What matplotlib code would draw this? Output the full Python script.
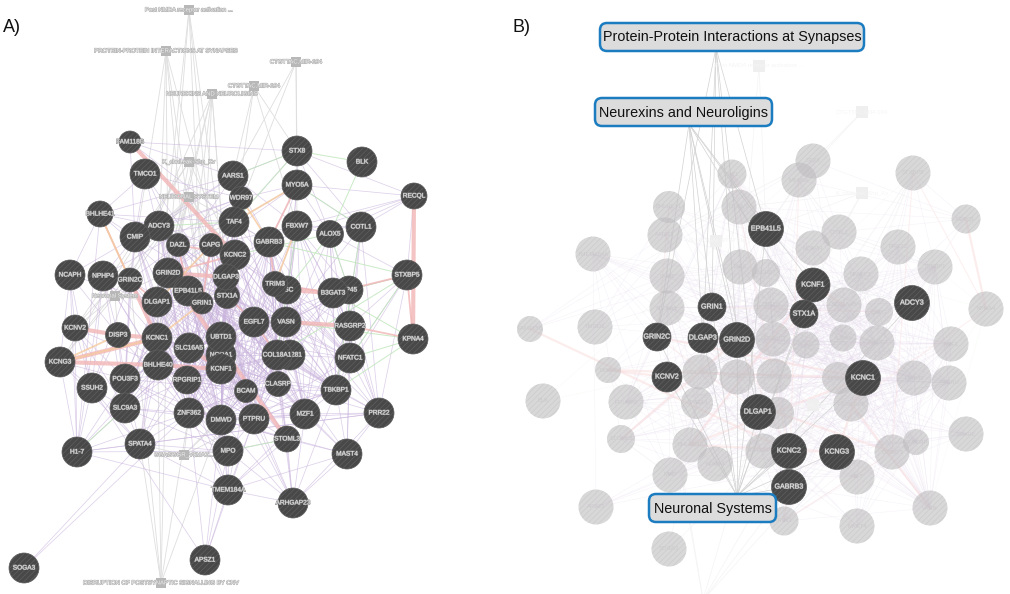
"""
GeneMANIA style network, panels A and B, redrawn on a pixel grid
"""

import matplotlib
matplotlib.use('Agg')
import matplotlib.pyplot as plt
from matplotlib.patches import Circle, FancyBboxPatch
import matplotlib.patheffects as pe

plt.rcParams['font.family'] = ['Liberation Sans', 'DejaVu Sans']
plt.rcParams['hatch.linewidth'] = 0.5

# panel A genes, drawing order matters (later ones cover earlier ones)
genes_a = ['NCOA1', 'ZNF281', 'LSC', 'RP45', 'FAM118B', 'TMCO1', 'STX8', 'BLK', 'AARS1', 'MYO5A',
           'RECQL', 'WDR97', 'BHLHE41', 'TAF4', 'FBXW7', 'ADCY3', 'CMIP', 'ALOX5', 'COTL1', 'DAZL',
           'CAPG', 'GABRB3', 'KCNC2', 'NCAPH', 'NPHP4', 'GRIN2C', 'GRIN2D', 'STXBP5', 'EPB41L5', 'STX1A',
           'DLGAP3', 'TRIM3', 'B3GAT3', 'GRIN1', 'DLGAP1', 'KCNV2', 'DISP3', 'KCNC1', 'EGFL7', 'VASN',
           'RASGRP2', 'KPNA4', 'UBTD1', 'SLC16A5', 'KCNF1', 'COL18A1', 'NFATC1', 'BHLHE40', 'KCNG3', 'POU3F3',
           'RPGRIP1', 'SSUH2', 'CLASRP', 'BCAM', 'TBKBP1', 'SLC9A3', 'ZNF362', 'DMWD', 'PTPRU', 'MZF1',
           'PRR22', 'STOML3', 'H1-7', 'SPATA4', 'MPO', 'MAST4', 'TMEM184A', 'ARHGAP23', 'APSZ1', 'SOGA3']
xa = [221, 290, 287, 349, 130, 145, 297, 362, 233, 297,
      414, 241, 100, 234, 297, 159, 135, 330, 361, 178,
      211, 269, 235, 70, 103, 130, 168, 407, 188, 227,
      226, 275, 333, 202, 157, 75, 118, 157, 254, 286,
      350, 413, 221, 189, 221, 277, 350, 158, 60, 125,
      187, 92, 278, 246, 336, 125, 189, 221, 254, 305,
      379, 287, 77, 140, 228, 347, 228, 293, 205, 24]
ya = [355, 355, 290, 290, 142, 174, 151, 162, 176, 185,
      196, 198, 214, 222, 226, 226, 237, 234, 227, 245,
      245, 242, 255, 275, 276, 280, 273, 275, 291, 296,
      277, 284, 293, 303, 302, 328, 335, 338, 322, 322,
      326, 339, 337, 348, 369, 355, 358, 365, 362, 379,
      380, 388, 384, 391, 390, 408, 413, 420, 419, 414,
      413, 439, 452, 444, 451, 454, 490, 503, 560, 568]
ra = [15, 15, 14, 14, 11, 15, 15, 15, 15, 15,
      13, 11.5, 13, 15, 15, 15, 15, 13.5, 15, 11.5,
      11.5, 15, 15, 15, 15, 12, 15, 15, 15, 12.5,
      13, 12.5, 15, 11, 15, 13, 12.5, 15, 15, 15,
      15, 15, 15, 15, 15, 15, 15, 15, 15, 15,
      14, 15, 12.5, 11.5, 15, 15, 15, 15, 15, 15,
      15, 13, 15, 15, 15, 15, 15, 15, 15, 15]

# panel B, faded genes
ghost_b = ['STX8', 'MYO5A', 'DAZL', 'STXBP5', 'BHLHE41', 'FBXW7', 'RECQL', 'AARS1', 'COTL1', 'NCAPH',
           'PRR22', 'TBKBP1', 'TMEM184A', 'TAF4', 'WDR97', 'CMIP', 'NFATC1', 'SLC9A3', 'UBTD1', 'SLC16A5',
           'CAPG', 'KPNA4', 'FAM118B', 'TMCO1', 'RPGRIP1', 'BCAM', 'ALOX5', 'ZNF362', 'MZF1', 'DISP3',
           'COL18A1', 'EGFL7', 'RP45', 'NCOA1', 'DMWD', 'PTPRU', 'BLK', 'POU3F3', 'SPATA4', 'RASGRP2',
           'LSC', 'STOML3', 'BHLHE40', 'ARHGAP23', 'B3GAT3', 'CLASRP', 'SSUH2', 'NPHP4', 'MPO', 'H1-7',
           'APSZ1', 'VASN', 'TRIM3', 'MAST4', 'SOGA3']
xg = [813, 799, 732, 913, 669, 739, 966, 665, 839, 813,
      898, 935, 593, 740, 766, 667, 861, 667, 771, 844,
      879, 986, 530, 595, 773, 806, 843, 877, 951, 608,
      700, 737, 774, 838, 914, 949, 543, 626, 697, 851,
      778, 621, 690, 763, 892, 916, 966, 715, 670, 857,
      596, 930, 784, 857, 669]
yg = [161, 180, 174, 173, 207, 207, 219, 235, 232, 248,
      247, 267, 254, 267, 273, 276, 274, 308, 305, 305,
      312, 309, 329, 327, 339, 345, 338, 343, 344, 370,
      372, 377, 376, 378, 378, 383, 401, 402, 403, 404,
      413, 439, 445, 451, 452, 442, 434, 464, 475, 477,
      507, 508, 521, 526, 549]
rg = [17.5, 17.5, 14.5, 17.5, 16, 17.5, 14.5, 17.5, 17.5, 17.5,
      17.5, 17.5, 17.5, 17.5, 14, 17.5, 17.5, 17.5, 17.5, 17.5,
      14, 17.5, 13, 17.5, 17.5, 13.5, 13.5, 17.5, 17.5, 13,
      17.5, 17.5, 17.5, 16, 17.5, 17.5, 17.5, 17.5, 16, 17.5,
      16, 14, 17.5, 17.5, 17.5, 13, 17.5, 17.5, 17.5, 17.5,
      17.5, 17.5, 14.5, 17.5, 17.5]

# panel B, highlighted genes
genes_b = ['EPB41L5', 'KCNF1', 'GRIN1', 'STX1A', 'ADCY3', 'GRIN2C', 'DLGAP3', 'GRIN2D', 'KCNV2', 'KCNC1',
           'DLGAP1', 'KCNC2', 'KCNG3', 'GABRB3']
xb = [766, 813, 712, 804, 912, 657, 703, 737, 667, 863, 758, 789, 837, 789]
yb = [229, 285, 307, 314, 303, 337, 338, 340, 377, 378, 412, 451, 452, 487]
rb = [17.5, 17, 14, 14, 17.5, 14, 15, 17.5, 15, 17.5, 17.5, 17.5, 17.5, 17.5]

# enrichment terms of panel A
terms_a = ['Post NMDA receptor activation ...', 'PROTEIN-PROTEIN INTERACTIONS AT SYNAPSES', 'CTGTTAC,MIR-194',
           'CTGTTAC,MIR-194', 'NEUREXINS AND NEUROLIGINS', 'K_chnLeak-Shp_Kv', 'NEURONAL SYSTEM',
           'Neuronal System', 'GGAGGGR_V$MAZ...', 'DISRUPTION OF POSTSYNAPTIC SIGNALLING BY CNV']
xt = [189, 166, 296, 254, 212, 189, 189, 115, 184, 161]
yt = [10, 51, 62, 86, 94, 162, 197, 296, 455, 583]

term_edges_a = [
    ('Post NMDA receptor activation ...', 'GRIN1 GRIN2D DLGAP1 DLGAP3 CAPG'),
    ('PROTEIN-PROTEIN INTERACTIONS AT SYNAPSES', 'GRIN1 GRIN2C GRIN2D DLGAP1 DLGAP3 EPB41L5'),
    ('NEUREXINS AND NEUROLIGINS', 'GRIN1 GRIN2C GRIN2D DLGAP1 DLGAP3 EPB41L5 STX1A'),
    ('CTGTTAC,MIR-194', 'AARS1 STX8 TAF4 FBXW7'),
    ('K_chnLeak-Shp_Kv', 'KCNC1 KCNC2 KCNG3 KCNV2 KCNF1'),
    ('NEURONAL SYSTEM', 'GRIN1 GRIN2C GRIN2D DLGAP1 DLGAP3 KCNC1 KCNC2 KCNG3 KCNV2 ADCY3 GABRB3 STX1A'),
    ('Neuronal System', 'GRIN1 GRIN2C GRIN2D DLGAP1 KCNV2 KCNG3 NPHP4 DISP3'),
    ('GGAGGGR_V$MAZ...', 'ZNF362 DMWD MPO PTPRU SPATA4 BCAM'),
    ('DISRUPTION OF POSTSYNAPTIC SIGNALLING BY CNV', 'SPATA4 ZNF362 GRIN2C GRIN2D DLGAP1 DMWD'),
]

# boxed terms of panel B: label, box left, top, right, bottom, line anchor
box_labels = ['Protein-Protein Interactions at Synapses', 'Neurexins and Neuroligins', 'Neuronal Systems']
box_left = [600, 595, 649]
box_top = [23, 98, 494]
box_right = [864, 772, 776]
box_bottom = [51, 126, 522]
anchor_x = [716, 689, 737]
anchor_y = [48, 124, 496]
box_members = ['EPB41L5 GRIN1 GRIN2C GRIN2D DLGAP1 DLGAP3',
               'EPB41L5 GRIN1 GRIN2C GRIN2D DLGAP1 DLGAP3 KCNF1 STX1A',
               'EPB41L5 GRIN1 GRIN2C GRIN2D DLGAP1 DLGAP3 KCNV2 KCNC1 KCNC2 KCNG3 GABRB3 ADCY3 STX1A KCNF1']

# faded term squares of panel B
ghost_sq_x = [759, 862, 862, 716, 813, 703]
ghost_sq_y = [66, 112, 193, 241, 405, 600]
ghost_sq_names = ['Post NMDA receptor activation ...', 'CTGTTAC,MIR-194', 'K_chnLeak-Shp_Kv', 'NEURONAL SYSTEM',
                  'GGAGGGR_V$MAZ...', '']
ghost_sq_members = ['EPB41L5 GRIN2D', 'STX8 MYO5A', 'KCNF1 EPB41L5 COTL1 FBXW7', '', 'DMWD LSC RASGRP2 KCNC2',
                    'GABRB3 KCNG3 GRIN2C KCNV2 DLGAP1 KCNC2']

# co-expression edges: first gene of a row links to all others in that row
purple_rows = [
    'FAM118B STX8 AARS1 TAF4 CMIP',
    'TMCO1 WDR97 GRIN2D CMIP STX1A DAZL',
    'STX8 MYO5A TAF4 AARS1 COTL1 RECQL ALOX5',
    'AARS1 CMIP ADCY3 BHLHE41 GRIN2D KCNC2 GABRB3 EGFL7 FBXW7',
    'MYO5A RECQL COTL1 ALOX5 TAF4 CAPG LSC EGFL7 VASN UBTD1 WDR97',
    'RECQL STXBP5 COTL1 GABRB3 FBXW7 ALOX5',
    'WDR97 ADCY3 NPHP4 CMIP GRIN2D COL18A1 KCNC2',
    'BHLHE41 NCAPH CMIP ADCY3 TAF4 TMCO1 KCNC1 H1-7 GRIN2D',
    'TAF4 CMIP DAZL GRIN2D KCNF1 UBTD1 VASN DMWD GABRB3 NFATC1',
    'FBXW7 COTL1 ALOX5 TBKBP1 RASGRP2 CLASRP EGFL7 MZF1 CAPG',
    'ADCY3 GRIN2D SLC16A5 KCNC1 EPB41L5 BHLHE40 RPGRIP1 DMWD UBTD1 CAPG BCAM',
    'CMIP NCAPH NPHP4 DLGAP1 KCNC1 POU3F3 SLC16A5 ZNF362 GRIN2C RPGRIP1 STX1A',
    'ALOX5 TBKBP1 NFATC1 RP45 MZF1 COL18A1 B3GAT3',
    'COTL1 PRR22 TBKBP1 NFATC1 RASGRP2 VASN',
    'DAZL GRIN2C DLGAP1 BHLHE40 SLC16A5 KCNF1 DMWD POU3F3 SLC9A3 BCAM',
    'CAPG KCNF1 EGFL7 RPGRIP1 PTPRU ZNF362 SLC16A5 CLASRP',
    'GABRB3 COL18A1 BCAM CLASRP TBKBP1 NFATC1 PTPRU MZF1 UBTD1 DMWD VASN LSC',
    'KCNC2 SLC16A5 RPGRIP1 BCAM ZNF362 DMWD PTPRU MZF1 CLASRP COL18A1',
    'NCAPH KCNV2 KCNG3 SSUH2 H1-7 DISP3 DLGAP1',
    'NPHP4 SSUH2 SLC9A3 KCNC1 H1-7 BHLHE40 ZNF362 DISP3',
    'GRIN2C KCNC1 SLC16A5 POU3F3 RPGRIP1 SLC9A3 UBTD1 DMWD SSUH2',
    'GRIN2D BHLHE40 KCNF1 ZNF362 BCAM EGFL7 DMWD SLC9A3 COL18A1 PTPRU',
    'STXBP5 RASGRP2 NFATC1 TBKBP1 PRR22 RP45 ALOX5',
    'DLGAP3 KCNF1 BCAM COL18A1 RPGRIP1 DMWD VASN CLASRP ZNF362 TBKBP1 MZF1',
    'EPB41L5 RPGRIP1 ZNF362 BCAM MPO PTPRU CLASRP COL18A1 SLC9A3',
    'LSC TBKBP1 MZF1 BCAM PTPRU DMWD COL18A1 NFATC1',
    'TRIM3 EGFL7 UBTD1 BCAM CLASRP MZF1 NFATC1 PRR22',
    'STX1A SLC16A5 KCNF1 RPGRIP1 BCAM PTPRU ZNF362 MZF1 NFATC1 TBKBP1',
    'B3GAT3 RASGRP2 NFATC1 TBKBP1 CLASRP COL18A1 MZF1 PRR22',
    'RP45 COL18A1 VASN TBKBP1 PRR22 NFATC1',
    'GRIN1 KCNF1 RPGRIP1 POU3F3 ZNF362 DMWD BCAM STOML3 PTPRU COL18A1',
    'DLGAP1 SLC16A5 RPGRIP1 ZNF362 SLC9A3 SPATA4 DMWD UBTD1 MPO',
    'KCNV2 SSUH2 SLC9A3 H1-7 POU3F3 BHLHE40',
    'DISP3 SSUH2 POU3F3 SLC9A3 RPGRIP1 ZNF362',
    'KCNC1 RPGRIP1 ZNF362 SPATA4 DMWD SLC16A5 UBTD1 MPO BCAM',
    'EGFL7 COL18A1 BCAM PTPRU DMWD MZF1 CLASRP KCNF1 RPGRIP1 TBKBP1',
    'VASN COL18A1 CLASRP MZF1 TBKBP1 PTPRU BCAM NFATC1 PRR22',
    'RASGRP2 TBKBP1 MZF1 PRR22 MAST4',
    'UBTD1 BCAM ZNF362 PTPRU MZF1 STOML3 CLASRP TBKBP1 RPGRIP1',
    'SLC16A5 RPGRIP1 ZNF362 DMWD SLC9A3 SPATA4 MPO BCAM PTPRU',
    'KCNF1 BCAM ZNF362 DMWD PTPRU MZF1 CLASRP STOML3 ARHGAP23 TMEM184A',
    'COL18A1 TBKBP1 MZF1 PTPRU STOML3 PRR22 MAST4 ARHGAP23',
    'NFATC1 TBKBP1 MZF1 PRR22 MAST4',
    'BHLHE40 POU3F3 SLC9A3 ZNF362 SPATA4 RPGRIP1 H1-7 DMWD MPO',
    'KCNG3 SSUH2 POU3F3 H1-7 SPATA4',
    'POU3F3 SLC9A3 ZNF362 SPATA4 H1-7 DMWD MPO',
    'RPGRIP1 ZNF362 DMWD SPATA4 BCAM MPO PTPRU TMEM184A',
    'SSUH2 SLC9A3 H1-7 SPATA4 APSZ1',
    'CLASRP MZF1 TBKBP1 PTPRU MAST4 PRR22 ARHGAP23 STOML3',
    'BCAM PTPRU MZF1 DMWD STOML3 TMEM184A ARHGAP23',
    'TBKBP1 MZF1 PRR22 MAST4 ARHGAP23 PTPRU',
    'SLC9A3 H1-7 SPATA4 ZNF362 MPO',
    'ZNF362 DMWD SPATA4 MPO TMEM184A PTPRU H1-7',
    'DMWD PTPRU MPO TMEM184A ARHGAP23 STOML3 MAST4',
    'PTPRU MZF1 STOML3 TMEM184A ARHGAP23 MPO PRR22',
    'MZF1 PRR22 MAST4 ARHGAP23 STOML3 TMEM184A',
    'PRR22 MAST4 ARHGAP23 H1-7 SPATA4',
    'STOML3 ARHGAP23 MAST4 TMEM184A MPO',
    'H1-7 SPATA4 MPO TMEM184A',
    'SPATA4 MPO SOGA3 TMEM184A',
    'MPO TMEM184A ARHGAP23 APSZ1',
    'MAST4 ARHGAP23 TMEM184A',
    'TMEM184A ARHGAP23 APSZ1',
    'APSZ1 ZNF362 DMWD PTPRU',
    'SOGA3 ZNF362',
]

# extra links inside the dense middle of the network
core_rows = [
    'DAZL CAPG EPB41L5 GRIN1 STX1A DLGAP3 UBTD1 EGFL7 VASN RPGRIP1',
    'CAPG GRIN2D DLGAP1 GRIN1 UBTD1 NCOA1 VASN COL18A1 TRIM3 BCAM',
    'KCNC2 EPB41L5 GRIN1 KCNC1 UBTD1 NCOA1 VASN NFATC1 TRIM3 RPGRIP1 TBKBP1',
    'GRIN2D GRIN1 STX1A UBTD1 NCOA1 VASN CLASRP RPGRIP1 MZF1 TBKBP1',
    'EPB41L5 STX1A UBTD1 NCOA1 KCNC1 EGFL7 VASN TBKBP1 DMWD',
    'DLGAP1 GRIN1 STX1A NCOA1 KCNF1 EGFL7 BCAM PTPRU CLASRP',
    'GRIN1 STX1A UBTD1 EGFL7 VASN CLASRP TBKBP1 MZF1',
    'STX1A UBTD1 NCOA1 EGFL7 VASN COL18A1 CLASRP DMWD',
    'DLGAP3 EPB41L5 GRIN1 EGFL7 UBTD1 NCOA1 BHLHE40 PTPRU',
    'KCNC1 NCOA1 KCNF1 EGFL7 RPGRIP1 POU3F3 CLASRP PTPRU',
    'BHLHE40 SLC16A5 UBTD1 NCOA1 KCNF1 BCAM PTPRU CLASRP EGFL7',
    'SLC16A5 UBTD1 NCOA1 EGFL7 VASN COL18A1 CLASRP',
    'UBTD1 EGFL7 VASN COL18A1 NCOA1 DMWD NFATC1',
    'NCOA1 KCNF1 EGFL7 VASN COL18A1 BCAM CLASRP PTPRU RPGRIP1 DMWD',
    'KCNF1 EGFL7 VASN COL18A1 RPGRIP1 ZNF281 TBKBP1',
    'EGFL7 VASN ZNF281 LSC TRIM3 B3GAT3 RASGRP2 NFATC1',
    'VASN TRIM3 LSC B3GAT3 ZNF281 RP45 DMWD ZNF362',
    'ZNF281 COL18A1 CLASRP BCAM PTPRU MZF1 TBKBP1 NFATC1 DMWD RPGRIP1',
    'TRIM3 LSC B3GAT3 RASGRP2 COL18A1 DMWD PTPRU ZNF281',
    'RPGRIP1 BCAM UBTD1 KCNF1 COL18A1 CLASRP',
    'BCAM CLASRP COL18A1 ZNF362 TBKBP1',
    'GABRB3 TRIM3 EGFL7 DLGAP3 STX1A KCNC2 KCNF1 COL18A1 ZNF281',
    'TAF4 GRIN1 STX1A DLGAP3 EPB41L5 EGFL7 SLC16A5',
    'FBXW7 LSC TRIM3 VASN RP45 B3GAT3 COL18A1 NFATC1',
    'POU3F3 KCNC1 SLC16A5 DLGAP1 UBTD1 KCNF1 BCAM',
    'SLC9A3 RPGRIP1 SLC16A5 KCNC1 DMWD UBTD1',
    'ZNF362 KCNF1 UBTD1 BCAM COL18A1 CLASRP MZF1',
    'DMWD BCAM COL18A1 CLASRP STOML3 MZF1 TBKBP1',
    'PTPRU COL18A1 CLASRP TBKBP1 UBTD1 NFATC1',
]

pink_thick = [('FAM118B', 'KCNC2'), ('GRIN2D', 'STOML3'), ('RECQL', 'KPNA4'), ('VASN', 'RASGRP2'),
              ('KCNG3', 'KCNC1'), ('KCNG3', 'BHLHE40'), ('KCNV2', 'DISP3'), ('DISP3', 'KCNC1'),
              ('GRIN2C', 'KCNC1'), ('KCNC1', 'BHLHE40'), ('BHLHE40', 'KCNF1'), ('SLC16A5', 'KCNF1'),
              ('LSC', 'B3GAT3'), ('GRIN2D', 'DLGAP3')]
pink_thin = [('BHLHE41', 'GRIN2C'), ('GRIN2C', 'DLGAP1'), ('GRIN2D', 'KCNC2'), ('STXBP5', 'KPNA4'),
             ('TRIM3', 'B3GAT3'), ('GABRB3', 'TRIM3'), ('EGFL7', 'COL18A1'), ('MYO5A', 'GABRB3'),
             ('DAZL', 'EPB41L5'), ('KPNA4', 'RASGRP2'), ('STX1A', 'EGFL7'), ('STXBP5', 'B3GAT3'),
             ('CAPG', 'GRIN1'), ('KCNC2', 'DAZL')]
orange_edges = [('BHLHE41', 'GRIN2C'), ('KCNG3', 'DISP3'), ('WDR97', 'GABRB3'), ('FBXW7', 'TRIM3'),
                ('MYO5A', 'TAF4'), ('GRIN1', 'KCNC1'), ('CAPG', 'DLGAP1'), ('KCNG3', 'KCNC1')]
green_edges = [('STX8', 'BLK'), ('BLK', 'ALOX5'), ('STX8', 'AARS1'), ('STX8', 'TAF4'), ('MYO5A', 'COTL1'),
               ('ALOX5', 'KCNC2'), ('FBXW7', 'COL18A1'), ('GABRB3', 'STXBP5'), ('ALOX5', 'LSC'),
               ('KPNA4', 'NFATC1'), ('KPNA4', 'TBKBP1'), ('KPNA4', 'B3GAT3'), ('KPNA4', 'VASN'),
               ('STXBP5', 'NFATC1'), ('STXBP5', 'RP45'), ('STXBP5', 'COL18A1'), ('ADCY3', 'TAF4'),
               ('SLC9A3', 'H1-7'), ('MPO', 'STOML3'), ('COTL1', 'TBKBP1'), ('ALOX5', 'RP45')]


def draw_node_list(ax, names, xs, ys, rs, fontsize):
    halo = [pe.withStroke(linewidth=0.7, foreground='#8a8a8a')]
    for i, name in enumerate(names):
        z = 10 + i
        ax.add_patch(Circle((xs[i], ys[i]), rs[i], facecolor='#484848', edgecolor='#5f5f5f',
                            hatch='//////', linewidth=0.5, zorder=z))
        ax.text(xs[i], ys[i], name, color='#ececec', fontsize=fontsize, ha='center', va='center',
                zorder=z + 0.5, path_effects=halo)


def draw_edges(ax, pairs, pos, color, lw, alpha, zorder=2):
    for a, b in pairs:
        if a not in pos or b not in pos:
            continue
        ax.plot([pos[a][0], pos[b][0]], [pos[a][1], pos[b][1]], color=color, lw=lw, alpha=alpha,
                solid_capstyle='round', zorder=zorder)


def row_pairs(rows):
    pairs = []
    for row in rows:
        names = row.split()
        for other in names[1:]:
            pairs.append((names[0], other))
    return pairs


fig = plt.figure(figsize=(10.1, 5.94), dpi=100)
ax = fig.add_axes([0, 0, 1, 1])
ax.set_xlim(0, 1010)
ax.set_ylim(594, 0)
ax.axis('off')

purple_pairs = row_pairs(purple_rows) + row_pairs(core_rows)

# panel A
pos_a = {name: (xa[i], ya[i]) for i, name in enumerate(genes_a)}
for term, members in term_edges_a:
    for i, t in enumerate(terms_a):
        if t != term:
            continue
        for m in members.split():
            ax.plot([xt[i], pos_a[m][0]], [yt[i], pos_a[m][1]], color='#dedede', lw=0.6, zorder=1)

draw_edges(ax, purple_pairs, pos_a, '#c8b2dc', 0.55, 0.6)
draw_edges(ax, green_edges, pos_a, '#bde5b8', 0.7, 0.8)
draw_edges(ax, pink_thick, pos_a, '#f2b6b6', 3.0, 0.8, zorder=3)
draw_edges(ax, pink_thin, pos_a, '#f2b6b6', 1.3, 0.8, zorder=3)
draw_edges(ax, orange_edges, pos_a, '#f6cb9f', 1.3, 0.8, zorder=3)

ax.scatter(xt, yt, marker='s', s=52, color='#b8b8b8', linewidths=0, zorder=4)
for i, term in enumerate(terms_a):
    ax.text(xt[i], yt[i], term, color='#f0f0f0', fontsize=4.3, ha='center', va='center', zorder=5,
            path_effects=[pe.withStroke(linewidth=0.8, foreground='#b4b4b4')])

draw_node_list(ax, genes_a, xa, ya, ra, 4.7)

# panel B
pos_b = {name: (xg[i], yg[i]) for i, name in enumerate(ghost_b)}
for i, name in enumerate(genes_b):
    pos_b[name] = (xb[i], yb[i])

draw_edges(ax, purple_pairs, pos_b, '#e3d6ec', 0.4, 0.3)
draw_edges(ax, pink_thick, pos_b, '#fadcdc', 1.6, 0.5, zorder=3)
draw_edges(ax, pink_thin, pos_b, '#fadcdc', 0.8, 0.4, zorder=3)
draw_edges(ax, green_edges, pos_b, '#e6f4e4', 0.4, 0.3)

for i, members in enumerate(ghost_sq_members):
    for m in members.split():
        ax.plot([ghost_sq_x[i], pos_b[m][0]], [ghost_sq_y[i], pos_b[m][1]], color='#f4f4f4', lw=0.5, zorder=2.5)

for i, label in enumerate(box_labels):
    for m in box_members[i].split():
        ax.plot([anchor_x[i], pos_b[m][0]], [anchor_y[i], pos_b[m][1]], color='#d2d2d2', lw=0.5, zorder=4)

ax.scatter(ghost_sq_x, ghost_sq_y, marker='s', s=65, color='#efefef', linewidths=0, zorder=5)
for i, name in enumerate(ghost_sq_names):
    ax.text(ghost_sq_x[i], ghost_sq_y[i], name, color='#f5f5f5', fontsize=4.3, ha='center', va='center', zorder=5.5)

for i, name in enumerate(ghost_b):
    ax.add_patch(Circle((xg[i], yg[i]), rg[i], facecolor='#c0bec0', edgecolor='#c4c2c4', hatch='//////',
                        linewidth=0, alpha=0.6, zorder=6))
    ax.text(xg[i], yg[i], name, color='#cbc9cb', fontsize=4.2, ha='center', va='center', zorder=6.5)

draw_node_list(ax, genes_b, xb, yb, rb, 5.1)

for i, label in enumerate(box_labels):
    box = FancyBboxPatch((box_left[i] + 5, box_top[i] + 5), box_right[i] - box_left[i] - 10,
                         box_bottom[i] - box_top[i] - 10, boxstyle='round,pad=5,rounding_size=7',
                         facecolor='#dcdcdc', edgecolor='#1c7cc0', linewidth=1.8, zorder=100)
    ax.add_patch(box)
    ax.text((box_left[i] + box_right[i]) / 2, (box_top[i] + box_bottom[i]) / 2 + 0.5, label, color='#111111',
            fontsize=10.4, ha='center', va='center', zorder=101)

ax.text(3, 27, 'A)', fontsize=13, color='#111111', ha='left', va='center', zorder=120)
ax.text(512, 27, 'B)', fontsize=13, color='#111111', ha='left', va='center', zorder=120)

fig.savefig('out.png', dpi=100)
plt.close(fig)
